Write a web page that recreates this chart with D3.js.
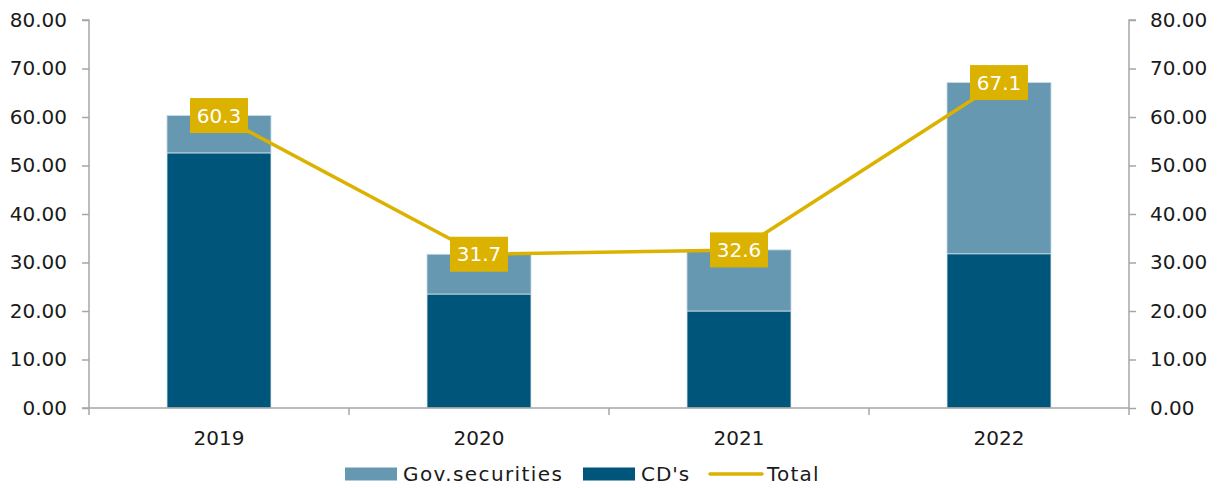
<!DOCTYPE html>
<html>
<head>
<meta charset="utf-8">
<script src="https://cdn.jsdelivr.net/npm/d3@7"></script>
<style>
  html, body { margin: 0; padding: 0; background: #fff; }
  svg { display: block; font-family: "DejaVu Sans", sans-serif; }
</style>
</head>
<body>
<svg id="chart" width="1222" height="488"></svg>
<script>
// Yearly holdings, stacked by instrument, with the total as a line
const years = ["2019", "2020", "2021", "2022"];
const cds = [52.6, 23.5, 20.0, 31.8];
const govSecurities = [7.7, 8.2, 12.6, 35.3];
const totals = [60.3, 31.7, 32.6, 67.1];
const yTicks = [0, 10, 20, 30, 40, 50, 60, 70, 80];
const seriesNames = ["Gov.securities", "CD's", "Total"];

const colors = { gov: "#6798B2", cds: "#00557A", total: "#DCB200", axis: "#A6A6A6", text: "#1a1a1a" };

const svg = d3.select("#chart");
const margin = { left: 89, right: 93, top: 20, bottom: 80 };
const W = 1222, H = 488;

const x = d3.scaleBand().domain(years).range([margin.left, W - margin.right]).paddingInner(0).paddingOuter(0);
const y = d3.scaleLinear().domain([0, 80]).range([H - margin.bottom, margin.top]);

const barW = x.bandwidth() * 0.4;
const rows = years.map((yr, i) => ({ year: yr, cds: cds[i], gov: govSecurities[i], total: totals[i] }));

// Stacked bars: CD's at the bottom, government securities on top
const g = svg.append("g");
g.selectAll("rect.cds").data(rows).join("rect")
  .attr("class", "cds")
  .attr("x", d => x(d.year) + (x.bandwidth() - barW) / 2)
  .attr("width", barW)
  .attr("y", d => y(d.cds))
  .attr("height", d => y(0) - y(d.cds))
  .attr("fill", colors.cds)
  .attr("stroke", "#dfe9ef").attr("stroke-width", 0.8);
g.selectAll("rect.gov").data(rows).join("rect")
  .attr("class", "gov")
  .attr("x", d => x(d.year) + (x.bandwidth() - barW) / 2)
  .attr("width", barW)
  .attr("y", d => y(d.cds + d.gov))
  .attr("height", d => y(d.cds) - y(d.cds + d.gov))
  .attr("fill", colors.gov)
  .attr("stroke", "#c9dbe5").attr("stroke-width", 0.8);

// Axes
const axisG = svg.append("g");
const yLeft = d3.axisLeft(y).tickValues(yTicks).tickSize(7).tickPadding(15).tickFormat(d3.format(".2f"));
const yRight = d3.axisRight(y).tickValues(yTicks).tickSize(7).tickPadding(14).tickFormat(d3.format(".2f"));

const gl = axisG.append("g").attr("transform", `translate(${margin.left},0)`).call(yLeft);
const gr = axisG.append("g").attr("transform", `translate(${W - margin.right},0)`).call(yRight);
[gl, gr].forEach(a => {
  a.select(".domain").attr("stroke", colors.axis).attr("stroke-width", 1.5);
  a.selectAll(".tick line").attr("stroke", colors.axis).attr("stroke-width", 1.5);
  a.selectAll(".tick text").attr("fill", colors.text).attr("font-size", 20).attr("font-family", "DejaVu Sans");
});
gl.select(".domain").attr("d", `M-7,${y(80)}H0V${y(0)}`);
gr.select(".domain").attr("d", `M7,${y(80)}H0V${y(0)}`);

// Category axis with ticks between categories
const bounds = years.map(yr => x(yr)).concat([x(years[years.length - 1]) + x.bandwidth()]);
axisG.append("line")
  .attr("x1", margin.left - 7).attr("x2", W - margin.right)
  .attr("y1", y(0)).attr("y2", y(0))
  .attr("stroke", colors.axis).attr("stroke-width", 1.5);
axisG.selectAll("line.xtick").data(bounds).join("line")
  .attr("class", "xtick")
  .attr("x1", d => d).attr("x2", d => d)
  .attr("y1", y(0)).attr("y2", y(0) + 7)
  .attr("stroke", colors.axis).attr("stroke-width", 1.5);
axisG.selectAll("text.xlab").data(years).join("text")
  .attr("class", "xlab")
  .attr("x", d => x(d) + x.bandwidth() / 2)
  .attr("y", y(0) + 37)
  .attr("text-anchor", "middle")
  .attr("font-size", 20)
  .attr("fill", colors.text)
  .text(d => d);

// Total line
const cx = d => x(d.year) + x.bandwidth() / 2;
svg.append("path")
  .datum(rows)
  .attr("fill", "none")
  .attr("stroke", colors.total)
  .attr("stroke-width", 3.5)
  .attr("d", d3.line().x(cx).y(d => y(d.total)));

// Value labels on the total line
const lab = svg.append("g").selectAll("g").data(rows).join("g")
  .attr("transform", d => `translate(${cx(d)},${y(d.total)})`);
lab.append("rect")
  .attr("x", -29).attr("y", -17.5).attr("width", 58).attr("height", 35)
  .attr("fill", colors.total);
lab.append("text")
  .attr("text-anchor", "middle")
  .attr("dy", "0.36em")
  .attr("font-size", 20)
  .attr("fill", "#ffffff")
  .text(d => d.total.toFixed(1));

// Legend
const leg = svg.append("g").attr("transform", "translate(0,474)");
const legItems = [
  { name: seriesNames[0], type: "rect", color: colors.gov, x: 345, spacing: 1.4 },
  { name: seriesNames[1], type: "rect", color: colors.cds, x: 583, spacing: 1.0 },
  { name: seriesNames[2], type: "line", color: colors.total, x: 709, spacing: 1.2 }
];
legItems.forEach(it => {
  if (it.type === "rect") {
    leg.append("rect").attr("x", it.x).attr("y", -6.5).attr("width", 52).attr("height", 13).attr("fill", it.color);
  } else {
    leg.append("line").attr("x1", it.x + 1).attr("x2", it.x + 53).attr("y1", 0).attr("y2", 0)
      .attr("stroke", it.color).attr("stroke-width", 3.5).attr("stroke-linecap", "round");
  }
  leg.append("text")
    .attr("x", it.x + 58).attr("y", 0).attr("dy", "0.36em")
    .attr("font-size", 20).attr("fill", colors.text)
    .attr("letter-spacing", it.spacing)
    .text(it.name);
});
</script>
</body>
</html>
